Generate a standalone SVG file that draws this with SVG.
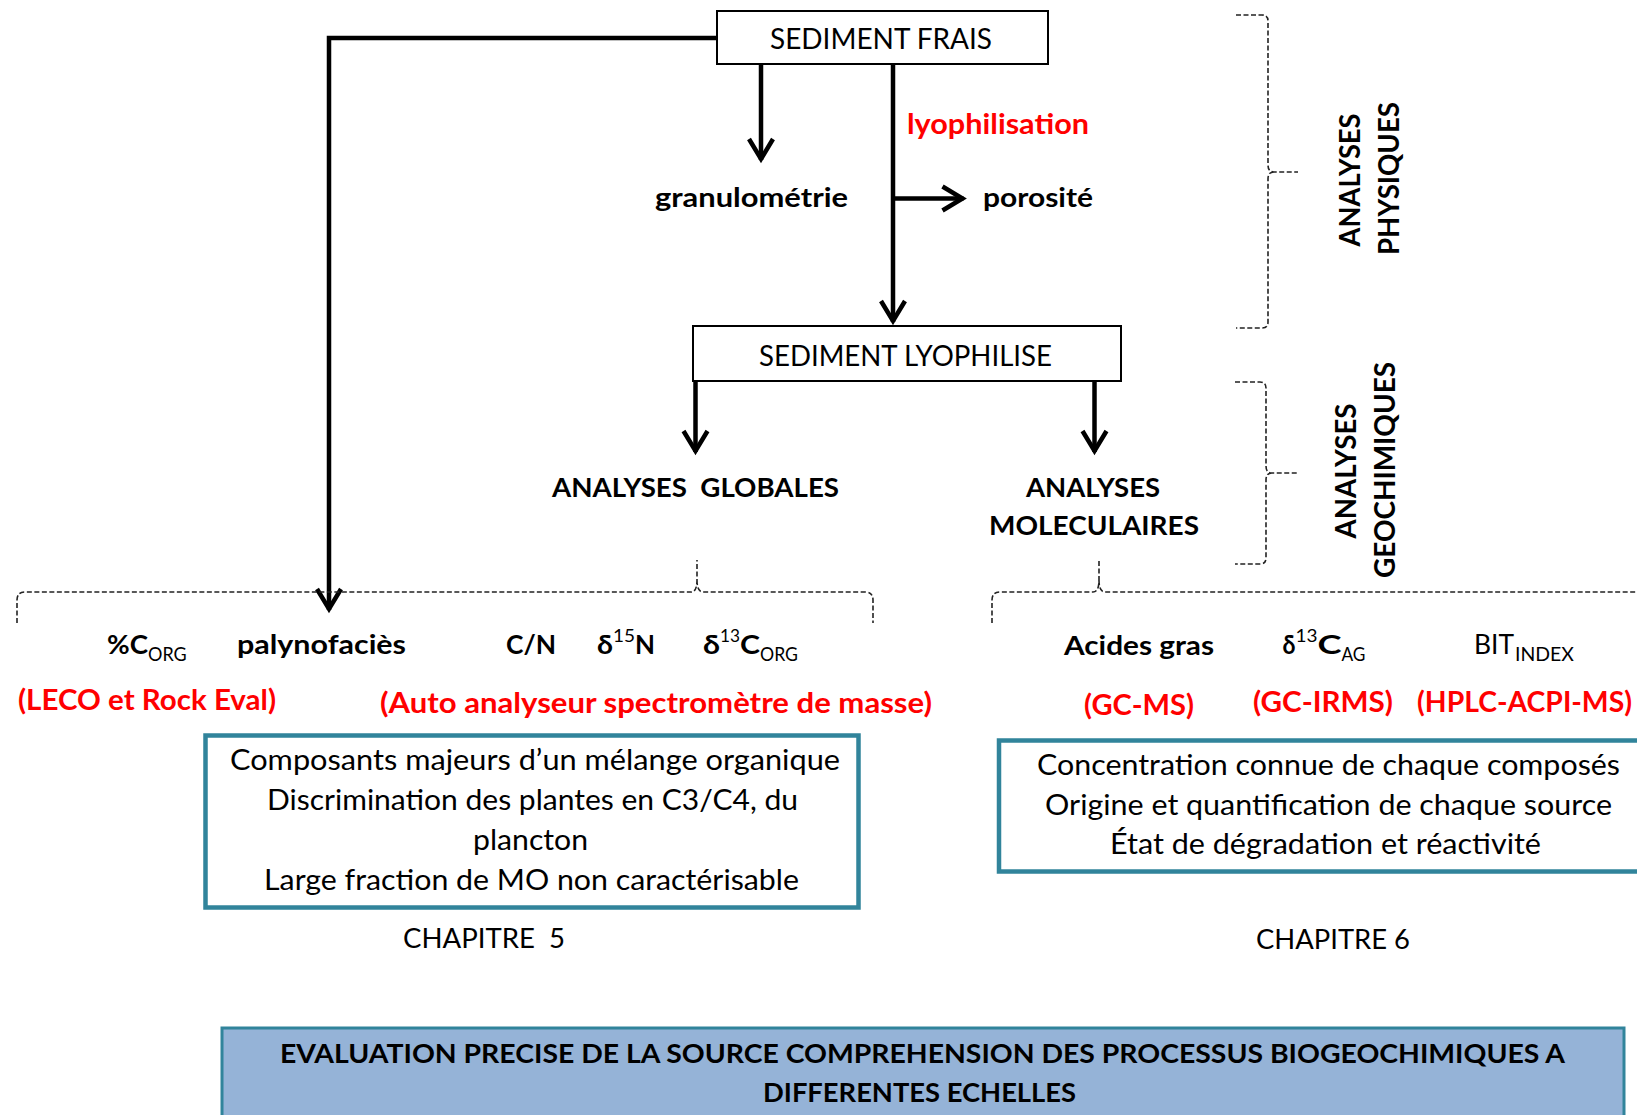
<svg xmlns="http://www.w3.org/2000/svg" width="1637" height="1115" viewBox="0 0 1637 1115">
<style>
text { font-family: Lato, "Liberation Sans", "DejaVu Sans", sans-serif; fill: #000; }
.b { font-weight: bold; }
.red { fill: #FF0000; }
.conn { stroke: #000; stroke-width: 4.5; fill: none; stroke-linejoin: miter; }
.brace { stroke: #222; stroke-width: 1.6; fill: none; stroke-dasharray: 5 2.5; }
.box { fill: #fff; stroke: #000; stroke-width: 2; }
.tbox { fill: #fff; stroke: #31849B; stroke-width: 4.5; }
.bbox { fill: #95B3D7; stroke: #31849B; stroke-width: 3; }
</style>
<defs>
<marker id="arr" markerUnits="userSpaceOnUse" markerWidth="40" markerHeight="40" viewBox="-30 -20 40 40" refX="0" refY="0" orient="auto" overflow="visible">
<path d="M-21,-12 L-1,0 L-21,12" fill="none" stroke="#000" stroke-width="4.5" stroke-linejoin="miter"/>
</marker>
</defs>
<rect width="1637" height="1115" fill="#fff"/>

<g id="connectors">
<polyline class="conn" points="716,38 329,38 329,610" marker-end="url(#arr)"/>
<line class="conn" x1="761" y1="65" x2="761" y2="160" marker-end="url(#arr)"/>
<line class="conn" x1="893" y1="65" x2="893" y2="322" marker-end="url(#arr)"/>
<line class="conn" x1="893" y1="198.5" x2="963.5" y2="198.5" marker-end="url(#arr)"/>
<line class="conn" x1="695.5" y1="382" x2="695.5" y2="452" marker-end="url(#arr)"/>
<line class="conn" x1="1094.5" y1="382" x2="1094.5" y2="452" marker-end="url(#arr)"/>
</g>

<g id="label-lyophilisation">
<text class="b red" x="907" y="134" font-size="28" textLength="182" lengthAdjust="spacingAndGlyphs">lyophilisation</text>
</g>

<g id="sediment-frais">
<rect class="box" x="717" y="11" width="331" height="53"/>
<text x="770" y="49" font-size="29" textLength="222" lengthAdjust="spacingAndGlyphs">SEDIMENT FRAIS</text>
</g>

<g id="granulometrie">
<text class="b" x="655" y="207" font-size="26" textLength="193" lengthAdjust="spacingAndGlyphs">granulométrie</text>
</g>

<g id="porosite">
<text class="b" x="983" y="207" font-size="26" textLength="110" lengthAdjust="spacingAndGlyphs">porosité</text>
</g>

<g id="sediment-lyophilise">
<rect class="box" x="693" y="326" width="428" height="55"/>
<text x="759" y="366" font-size="28" textLength="293" lengthAdjust="spacingAndGlyphs">SEDIMENT LYOPHILISE</text>
</g>

<g id="analyses-physiques">
<path class="brace" d="M1236,15 H1262 Q1268,15 1268,21 V165 Q1268,172 1274,172 H1298 M1274,172 Q1268,172 1268,179 V322 Q1268,328 1262,328 H1236"/>
<text class="b" transform="translate(1360,180) rotate(-90)" text-anchor="middle" font-size="29" textLength="133" lengthAdjust="spacingAndGlyphs">ANALYSES</text>
<text class="b" transform="translate(1399,178.5) rotate(-90)" text-anchor="middle" font-size="29" textLength="153" lengthAdjust="spacingAndGlyphs">PHYSIQUES</text>
</g>

<g id="analyses-geochimiques">
<path class="brace" d="M1235,382 H1260 Q1266,382 1266,388 V466 Q1266,473 1272,473 H1297 M1272,473 Q1266,473 1266,480 V558 Q1266,564 1260,564 H1235"/>
<text class="b" transform="translate(1356,471) rotate(-90)" text-anchor="middle" font-size="29" textLength="135" lengthAdjust="spacingAndGlyphs">ANALYSES</text>
<text class="b" transform="translate(1395,470) rotate(-90)" text-anchor="middle" font-size="29" textLength="216" lengthAdjust="spacingAndGlyphs">GEOCHIMIQUES</text>
</g>

<g id="analyses-globales">
<text class="b" x="552" y="497" font-size="27" textLength="287" lengthAdjust="spacingAndGlyphs" xml:space="preserve">ANALYSES  GLOBALES</text>
<path class="brace" d="M17,623 V600 Q17,592 25,592 H691 Q697,592 697,580 V560 M697,580 Q697,592 703,592 H865 Q873,592 873,600 V623"/>
</g>

<g id="analyses-moleculaires">
<text class="b" x="1026" y="497" font-size="27" textLength="134" lengthAdjust="spacingAndGlyphs">ANALYSES</text>
<text class="b" x="989" y="535" font-size="27" textLength="210" lengthAdjust="spacingAndGlyphs">MOLECULAIRES</text>
<path class="brace" d="M992,623 V600 Q992,592 1000,592 H1093 Q1099,592 1099,580 V560 M1099,580 Q1099,592 1105,592 H1640"/>
</g>

<g id="global-items">
<text class="b" x="107" y="654" font-size="26" textLength="41" lengthAdjust="spacingAndGlyphs">%C</text>
<text x="148" y="661" font-size="18.5" textLength="38.7" lengthAdjust="spacingAndGlyphs">ORG</text>
<text class="b" x="237" y="654" font-size="26" textLength="169" lengthAdjust="spacingAndGlyphs">palynofaciès</text>
<text class="b" x="506" y="654" font-size="26" textLength="50" lengthAdjust="spacingAndGlyphs">C/N</text>
<text class="b" x="597" y="654" font-size="26" textLength="16" lengthAdjust="spacingAndGlyphs">δ</text>
<text x="613" y="642" font-size="17.5" textLength="22" lengthAdjust="spacingAndGlyphs">15</text>
<text class="b" x="635" y="654" font-size="26" textLength="20" lengthAdjust="spacingAndGlyphs">N</text>
<text class="b" x="703" y="654" font-size="26" textLength="17" lengthAdjust="spacingAndGlyphs">δ</text>
<text x="720" y="642" font-size="17.5" textLength="20" lengthAdjust="spacingAndGlyphs">13</text>
<text class="b" x="740" y="654" font-size="26" textLength="20" lengthAdjust="spacingAndGlyphs">C</text>
<text x="760" y="661" font-size="18.5" textLength="38" lengthAdjust="spacingAndGlyphs">ORG</text>
<text class="b red" x="18" y="710" font-size="28" textLength="258" lengthAdjust="spacingAndGlyphs">(LECO et Rock Eval)</text>
<text class="b red" x="380" y="713" font-size="28" textLength="552" lengthAdjust="spacingAndGlyphs">(Auto analyseur spectromètre de masse)</text>
</g>

<g id="molecular-items">
<text class="b" x="1064" y="655" font-size="26" textLength="150" lengthAdjust="spacingAndGlyphs">Acides gras</text>
<text class="b" x="1282.6" y="654" font-size="26" textLength="13" lengthAdjust="spacingAndGlyphs">δ</text>
<text x="1295.5" y="642" font-size="17.5" textLength="22" lengthAdjust="spacingAndGlyphs">13</text>
<text class="b" x="1317.6" y="654" font-size="26" textLength="24" lengthAdjust="spacingAndGlyphs">C</text>
<text x="1341.5" y="661" font-size="18.5" textLength="24" lengthAdjust="spacingAndGlyphs">AG</text>
<text x="1474" y="654" font-size="26" textLength="40" lengthAdjust="spacingAndGlyphs">BIT</text>
<text x="1515" y="661" font-size="18.5" textLength="59" lengthAdjust="spacingAndGlyphs">INDEX</text>
<text class="b red" x="1084" y="715" font-size="28" textLength="110" lengthAdjust="spacingAndGlyphs">(GC-MS)</text>
<text class="b red" x="1253" y="712" font-size="28" textLength="140" lengthAdjust="spacingAndGlyphs">(GC-IRMS)</text>
<text class="b red" x="1417" y="712" font-size="28" textLength="215" lengthAdjust="spacingAndGlyphs">(HPLC-ACPI-MS)</text>
</g>

<g id="box-chapitre5">
<rect class="tbox" x="205.5" y="735.5" width="653" height="172"/>
<text x="230" y="770" font-size="28" textLength="610" lengthAdjust="spacingAndGlyphs">Composants majeurs d’un mélange organique</text>
<text x="267" y="810" font-size="28" textLength="531" lengthAdjust="spacingAndGlyphs">Discrimination des plantes en C3/C4, du</text>
<text x="473" y="850" font-size="28" textLength="115" lengthAdjust="spacingAndGlyphs">plancton</text>
<text x="264" y="890" font-size="28" textLength="535" lengthAdjust="spacingAndGlyphs">Large fraction de MO non caractérisable</text>
<text x="403" y="948" font-size="26" textLength="162" lengthAdjust="spacingAndGlyphs" xml:space="preserve">CHAPITRE  5</text>
</g>

<g id="box-chapitre6">
<rect class="tbox" x="999" y="740.5" width="680" height="131"/>
<text x="1037" y="775" font-size="28" textLength="583" lengthAdjust="spacingAndGlyphs">Concentration connue de chaque composés</text>
<text x="1045" y="815" font-size="28" textLength="567" lengthAdjust="spacingAndGlyphs">Origine et quantification de chaque source</text>
<text x="1110" y="854" font-size="28" textLength="431" lengthAdjust="spacingAndGlyphs">État de dégradation et réactivité</text>
<text x="1256" y="949" font-size="26" textLength="154" lengthAdjust="spacingAndGlyphs">CHAPITRE 6</text>
</g>

<g id="conclusion">
<rect class="bbox" x="222" y="1028" width="1402" height="120"/>
<text class="b" x="280" y="1063" font-size="27" textLength="1285" lengthAdjust="spacingAndGlyphs">EVALUATION PRECISE DE LA SOURCE COMPREHENSION DES PROCESSUS BIOGEOCHIMIQUES A</text>
<text class="b" x="763" y="1102" font-size="27" textLength="313" lengthAdjust="spacingAndGlyphs">DIFFERENTES ECHELLES</text>
</g>
</svg>
